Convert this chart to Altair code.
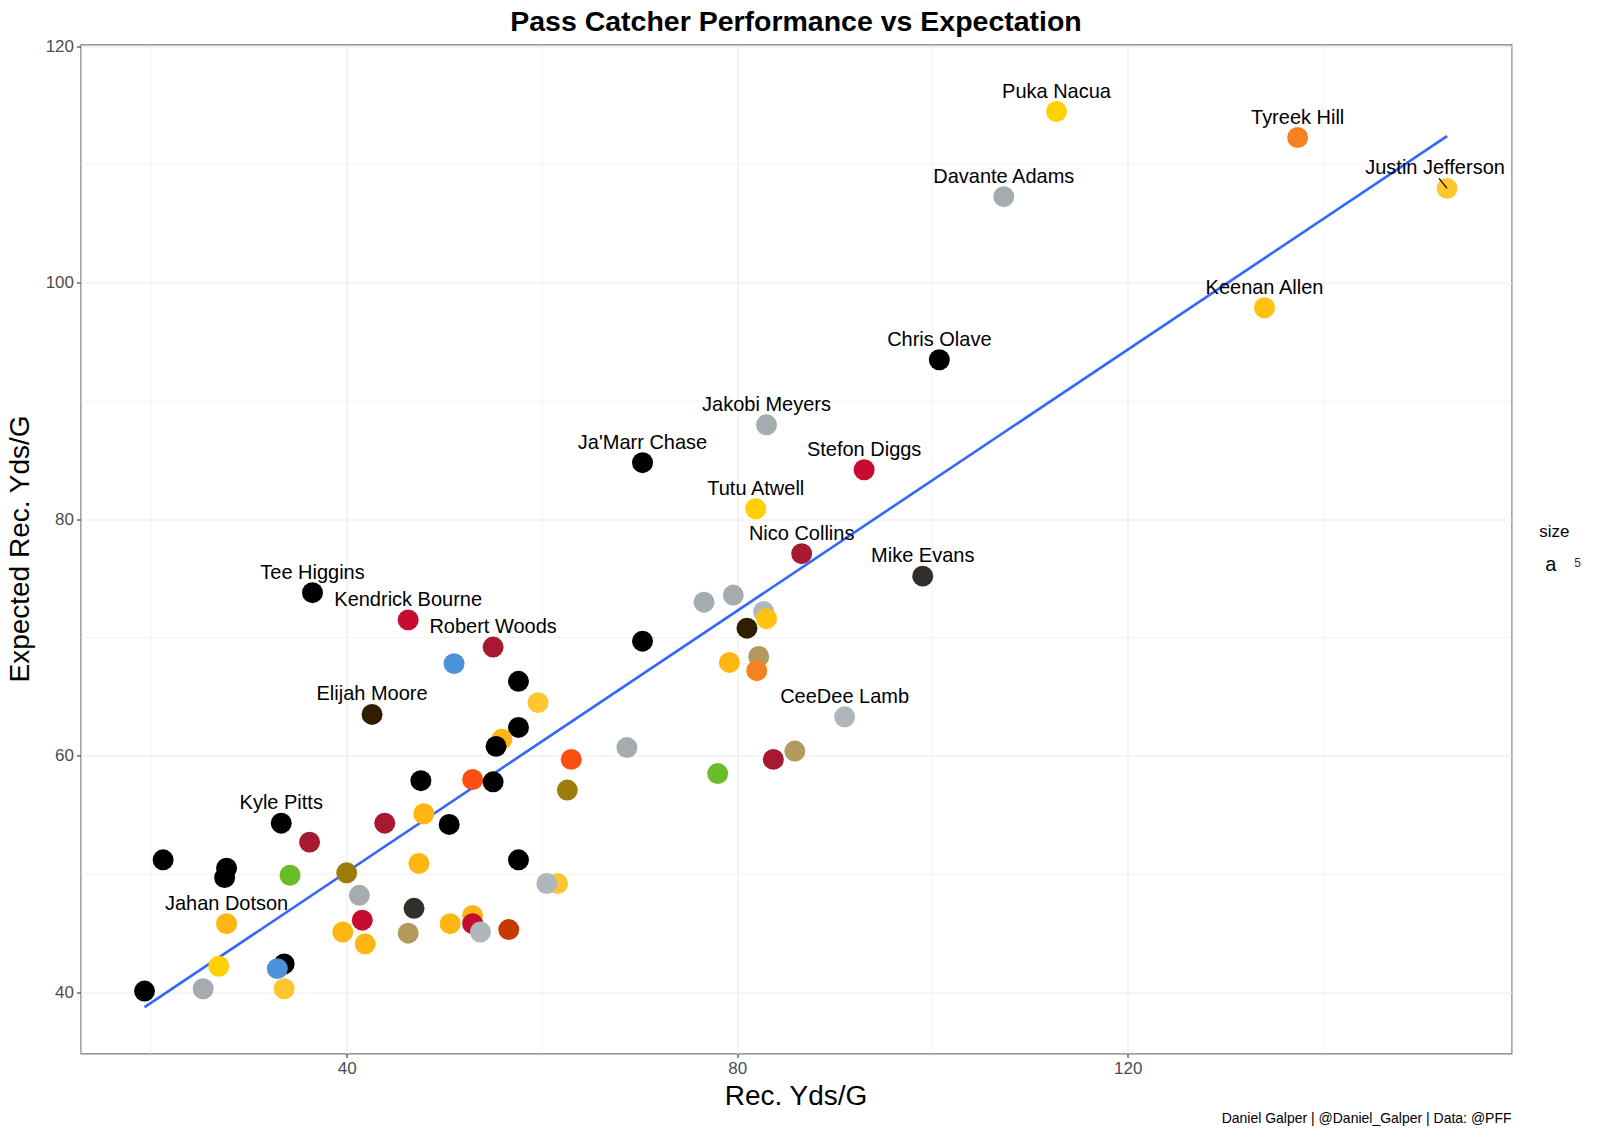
import altair as alt
import pandas as pd

# ---------------- data ----------------
names = [
    "", "", "", "", "", "", "", "", "", "",
    "", "", "", "", "", "", "", "", "", "",
    "", "", "", "", "", "", "", "", "", "",
    "", "", "", "", "", "", "", "", "", "",
    "", "", "", "", "", "", "", "", "", "",
    "", "", "",
    "",
    "Puka Nacua", "Tyreek Hill", "Justin Jefferson", "Davante Adams", "Keenan Allen",
    "Chris Olave", "Jakobi Meyers", "Ja'Marr Chase", "Stefon Diggs", "Tutu Atwell",
    "Nico Collins", "Mike Evans", "Tee Higgins", "Kendrick Bourne", "Robert Woods",
    "Elijah Moore", "CeeDee Lamb", "Kyle Pitts", "Jahan Dotson",
]
rec_yds = [
    76.6, 79.6, 82.7, 81.0, 83.0, 70.3, 51.0, 79.2, 82.2, 82.0,
    57.6, 59.6, 57.6, 55.9, 55.3, 68.7, 63.0, 83.7, 85.9, 78.0,
    52.9, 47.6, 55.0, 62.6, 47.9, 43.9, 50.5, 36.2, 21.2, 27.7,
    27.5, 34.2, 40.0, 57.6, 47.4, 61.6, 60.5, 41.3, 46.9, 41.6,
    52.9, 50.6, 52.9, 53.7, 56.6, 39.6, 46.3, 41.9, 26.9, 33.6,
    32.9, 33.6, 25.3,
    19.3,
    112.7, 137.4, 152.7, 107.3, 134.0,
    100.7, 83.0, 70.3, 93.0, 81.9,
    86.6, 99.0, 36.5, 46.3, 55.0,
    42.6, 91.0, 33.3, 27.7,
]
exp_yds = [
    73.0, 73.6, 72.2, 70.8, 71.6, 69.7, 67.8, 67.9, 68.4, 67.2,
    66.3, 64.5, 62.4, 61.4, 60.8, 60.7, 59.7, 59.7, 60.4, 58.5,
    58.0, 57.9, 57.8, 57.1, 55.1, 54.3, 54.2, 52.7, 51.2, 50.5,
    49.7, 49.9, 50.1, 51.2, 50.9, 49.2, 49.2, 48.2, 47.1, 46.1,
    46.5, 45.8, 45.8, 45.1, 45.3, 45.1, 45.0, 44.1, 42.2, 42.4,
    42.0, 40.3, 40.3,
    40.1,
    114.5, 112.3, 108.0, 107.3, 97.9,
    93.5, 88.0, 84.8, 84.2, 80.9,
    77.1, 75.2, 73.8, 71.5, 69.2,
    63.5, 63.3, 54.3, 45.8,
]
team_colors = [
    "#A5ACAF", "#A5ACAF", "#B0B7BC", "#311D00", "#FFC20E", "#000000", "#4B92DB", "#FFB612", "#B3995D", "#F58220",
    "#000000", "#FFC62F", "#000000", "#FFB612", "#000000", "#A5ACAF", "#FB4F14", "#A71930", "#B3995D", "#69BE28",
    "#FB4F14", "#000000", "#000000", "#9E7C0C", "#FFB612", "#A71930", "#000000", "#A71930", "#000000", "#000000",
    "#000000", "#69BE28", "#9E7C0C", "#000000", "#FFB612", "#FFC62F", "#B0B7BC", "#A5ACAF", "#322F2B", "#C60C30",
    "#FFB612", "#FFB612", "#C60C30", "#B0B7BC", "#C83803", "#FFB612", "#B3995D", "#FFB612", "#FFD100", "#000000",
    "#4B92DB", "#FFC62F", "#A5ACAF",
    "#000000",
    "#FFD100", "#F58220", "#FFC62F", "#A5ACAF", "#FFC20E",
    "#000000", "#A5ACAF", "#000000", "#C60C30", "#FFD100",
    "#A71930", "#322F2B", "#000000", "#C60C30", "#A71930",
    "#311D00", "#B0B7BC", "#000000", "#FFB612",
]

major_x = [40, 80, 120]
major_y = [40, 60, 80, 100, 120]
minor_x = [20, 60, 100, 140]
minor_y = [50, 70, 90, 110]

title_text = "Pass Catcher Performance vs Expectation"
x_title = "Rec. Yds/G"
y_title = "Expected Rec. Yds/G"
caption = "Daniel Galper | @Daniel_Galper | Data: @PFF"

df = pd.DataFrame({"player": names, "rec": rec_yds, "exp": exp_yds, "color": team_colors})

# ---------------- layout ----------------
W, H = 1431, 1009
FONT = "Liberation Sans"
xs = alt.Scale(domain=[12.74, 159.3], nice=False, zero=False)
ys = alt.Scale(domain=[34.82, 120.17], nice=False, zero=False)

axis_common = dict(
    title=None, grid=True, gridColor="#EBEBEB", gridWidth=1.1, domain=False,
    ticks=True, tickColor="#333333", tickSize=4, tickWidth=1.1,
    labelFontSize=17, labelColor="#4D4D4D", labelFont=FONT, labelPadding=3,
)
X_AXIS = alt.Axis(values=major_x, **axis_common)
Y_AXIS = alt.Axis(values=major_y, **axis_common)


def X(field):
    return alt.X(field, scale=xs, axis=X_AXIS)


def Y(field):
    return alt.Y(field, scale=ys, axis=Y_AXIS)


minor_v = alt.Chart(pd.DataFrame({"v": minor_x})).mark_rule(
    color="#EBEBEB", strokeWidth=0.6
).encode(x=X("v:Q"))

minor_h = alt.Chart(pd.DataFrame({"v": minor_y})).mark_rule(
    color="#EBEBEB", strokeWidth=0.6
).encode(y=Y("v:Q"))

base = alt.Chart(df)

points = base.mark_circle(size=440, opacity=1).encode(
    x=X("rec:Q"),
    y=Y("exp:Q"),
    color=alt.Color("color:N", scale=None),
)

reg = base.transform_regression("rec", "exp").mark_line(
    color="#3366FF", strokeWidth=2.6
).encode(x=X("rec:Q"), y=Y("exp:Q"))

labels = base.transform_filter(
    "datum.player != '' && datum.player != 'Justin Jefferson'"
).mark_text(dy=-20, fontSize=20, font=FONT, color="black", baseline="middle").encode(
    x=X("rec:Q"), y=Y("exp:Q"), text="player:N",
)

jj = base.transform_filter("datum.player == 'Justin Jefferson'")
jj_label = jj.mark_text(dy=-20, dx=-12, fontSize=20, font=FONT, color="black", baseline="middle").encode(
    x=X("rec:Q"), y=Y("exp:Q"), text="player:N",
)
jj_seg = jj.mark_rule(color="black", strokeWidth=1.2, x2Offset=-8, y2Offset=-10).encode(
    x=X("rec:Q"), y=Y("exp:Q"),
    x2=alt.X2("rec:Q"), y2=alt.Y2("exp:Q"),
)


def note(text, x, y, size, **kw):
    return alt.Chart(pd.DataFrame({"t": [text]})).mark_text(
        fontSize=size, font=FONT, **kw
    ).encode(text="t:N", x=alt.value(x), y=alt.value(y))


title = note(title_text, W / 2, -14, 28.5, fontWeight="bold", color="black",
             align="center", baseline="alphabetic")
xt = note(x_title, W / 2, 1060.5, 28, color="black", align="center", baseline="alphabetic")
yt = note(y_title, -51, H / 2, 28, color="black", align="center",
          baseline="alphabetic", angle=270)
leg_t = note("size", 1458.8, 492.2, 17, color="black", align="left", baseline="alphabetic")
leg_a = note("a", 1470.2, 526.5, 20, color="black", align="center", baseline="alphabetic")
leg_5 = note("5", 1497.2, 522.5, 12, color="#333333", align="center", baseline="alphabetic")
cap = note(caption, W, 1078.5, 14, color="black", align="right", baseline="alphabetic")

chart = alt.layer(
    minor_v, minor_h, reg, points, jj_seg, labels, jj_label,
    title, xt, yt, leg_t, leg_a, leg_5, cap,
).properties(
    width=W, height=H,
    autosize=alt.AutoSizeParams(type="none"),
    padding={"left": 72.5, "top": 36.5, "right": 80.3, "bottom": 81},
    background="white",
).configure_view(stroke="#7A7A7A", strokeWidth=1.1)

chart.save("out.html", embed_options={"renderer": "svg", "actions": False})
